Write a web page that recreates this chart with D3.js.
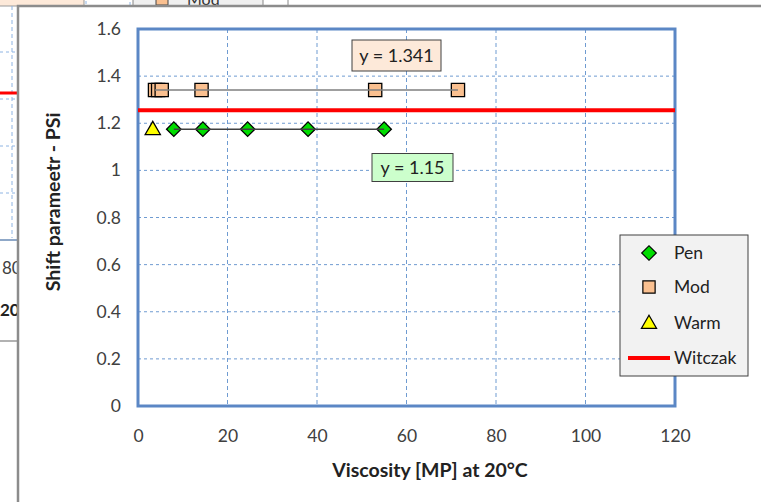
<!DOCTYPE html>
<html>
<head>
<meta charset="utf-8">
<script src="https://cdn.jsdelivr.net/npm/d3@7"></script>
<style>
  html, body { margin: 0; padding: 0; background: #fff; }
  svg { display: block; }
  text { font-family: Lato, "Open Sans", sans-serif; }
</style>
</head>
<body>
<svg id="chart" width="761" height="502"></svg>
<script>
// Shift parameter vs viscosity at 20°C
const penX   = [8, 14.5, 24.5, 38, 55];
const penY   = [1.175, 1.175, 1.175, 1.175, 1.175];
const modX   = [3.8, 4.5, 5.3, 14.2, 53, 71.5];
const modY   = [1.341, 1.341, 1.341, 1.341, 1.341, 1.341];
const warmX  = [3.3];
const warmY  = [1.175];
const witczakX = [0, 120];
const witczakY = [1.255, 1.255];
const xTicks = [0, 20, 40, 60, 80, 100, 120];
const yTicks = [0, 0.2, 0.4, 0.6, 0.8, 1, 1.2, 1.4, 1.6];
const legendNames = ["Pen", "Mod", "Warm", "Witczak"];
const modLabel = "y = 1.341";
const penLabel = "y = 1.15";

const svg = d3.select("#chart");

// ---- partly hidden chart sitting behind this one ----
const back = svg.append("g");
back.append("rect").attr("x", -2).attr("y", -4).attr("width", 86).attr("height", 10)
  .attr("fill", "#fde9d9").attr("stroke", "#999");
back.append("rect").attr("x", 86).attr("y", -4).attr("width", 44).attr("height", 10)
  .attr("fill", "#fff").attr("stroke", "#8eb4e3").attr("stroke-dasharray", "3,2");
back.append("rect").attr("x", 133).attr("y", -4).attr("width", 130).attr("height", 10)
  .attr("fill", "#f0f0f0").attr("stroke", "#888");
back.append("rect").attr("x", 156).attr("y", -4).attr("width", 12).attr("height", 9)
  .attr("fill", "#fac090").attr("stroke", "#444");
back.append("text").attr("x", 187).attr("y", 5).attr("font-size", 16).attr("fill", "#333").text("Mod");
back.append("line").attr("x1", 288).attr("x2", 288).attr("y1", 0).attr("y2", 6).attr("stroke", "#888");
[52, 99, 146, 193].forEach(y => back.append("line").attr("x1", 0).attr("x2", 18)
  .attr("y1", y).attr("y2", y).attr("stroke", "#8eb4e3").attr("stroke-dasharray", "3,3"));
back.append("line").attr("x1", 12).attr("x2", 12).attr("y1", 6).attr("y2", 238)
  .attr("stroke", "#8eb4e3").attr("stroke-dasharray", "4,3");
back.append("line").attr("x1", 0).attr("x2", 18).attr("y1", 93).attr("y2", 93)
  .attr("stroke", "#ff0000").attr("stroke-width", 3);
back.append("line").attr("x1", 0).attr("x2", 18).attr("y1", 240).attr("y2", 240)
  .attr("stroke", "#8fa8c8").attr("stroke-width", 2);
back.append("text").attr("x", 2).attr("y", 274).attr("font-size", 17).attr("fill", "#404040").text("80");
back.append("text").attr("x", 0).attr("y", 316).attr("font-size", 17).attr("font-weight", "bold").attr("fill", "#222").text("20");
back.append("line").attr("x1", 0).attr("x2", 18).attr("y1", 341).attr("y2", 341)
  .attr("stroke", "#999").attr("stroke-width", 1.5);

// ---- chart area ----
svg.append("rect").attr("x", 18).attr("y", 6).attr("width", 760).attr("height", 510)
  .attr("fill", "#fff").attr("stroke", "#8c8c8c").attr("stroke-width", 2.5);

const plot = { left: 138, right: 675, top: 29, bottom: 406 };
const x = d3.scaleLinear().domain([0, 120]).range([plot.left, plot.right]);
const y = d3.scaleLinear().domain([0, 1.6]).range([plot.bottom, plot.top]);

// gridlines
const grid = svg.append("g");
grid.selectAll("line.h").data(yTicks.slice(1, -1)).join("line")
  .attr("x1", plot.left).attr("x2", plot.right)
  .attr("y1", d => y(d)).attr("y2", d => y(d))
  .attr("stroke", "#6f9bd1").attr("stroke-width", 1).attr("stroke-dasharray", "3,3");
grid.selectAll("line.v").data(xTicks.slice(1, -1)).join("line")
  .attr("x1", d => x(d)).attr("x2", d => x(d))
  .attr("y1", plot.top).attr("y2", plot.bottom)
  .attr("stroke", "#6f9bd1").attr("stroke-width", 1).attr("stroke-dasharray", "4,3");

// axes (labels only, frame drawn separately)
const xAxis = svg.append("g").attr("transform", `translate(0,${plot.bottom})`)
  .call(d3.axisBottom(x).tickValues(xTicks).tickSize(0).tickPadding(24).tickFormat(d3.format("d")));
const yAxis = svg.append("g").attr("transform", `translate(${plot.left},0)`)
  .call(d3.axisLeft(y).tickValues(yTicks).tickSize(0).tickPadding(17)
    .tickFormat(d => d === 0 || d === 1 ? String(d) : d3.format(".1f")(d)));
[xAxis, yAxis].forEach(a => {
  a.select(".domain").remove();
  a.selectAll("text").attr("font-size", 17.5).attr("fill", "#404040")
    .attr("font-family", "Lato, sans-serif");
});

// plot frame
svg.append("rect").attr("x", plot.left).attr("y", plot.top)
  .attr("width", plot.right - plot.left).attr("height", plot.bottom - plot.top)
  .attr("fill", "none").attr("stroke", "#5b87c5").attr("stroke-width", 3);

// Witczak reference line
const line = d3.line().x(d => x(d[0])).y(d => y(d[1]));
svg.append("path").datum(d3.zip(witczakX, witczakY)).attr("d", line)
  .attr("fill", "none").attr("stroke", "#ff0000").attr("stroke-width", 4);

// markers: square, diamond (square turned 45°), triangle
const sq = d3.symbol().type(d3.symbolSquare).size(175);
const dia = d3.symbol().type(d3.symbolSquare).size(105);
const tri = d3.symbol().type(d3.symbolTriangle).size(100);

const modPts = d3.zip(modX, modY);
svg.append("g").selectAll("path").data(modPts).join("path")
  .attr("d", sq).attr("transform", d => `translate(${x(d[0])},${y(d[1])})`)
  .attr("fill", "#fac090").attr("stroke", "#000").attr("stroke-width", 1.3);
svg.append("path").datum(modPts).attr("d", line)
  .attr("fill", "none").attr("stroke", "#7f7f7f").attr("stroke-width", 1.5);

const penPts = d3.zip(penX, penY);
svg.append("g").selectAll("path").data(penPts).join("path")
  .attr("d", dia).attr("transform", d => `translate(${x(d[0])},${y(d[1])}) rotate(45)`)
  .attr("fill", "#00dd00").attr("stroke", "#000").attr("stroke-width", 1.3);
svg.append("path").datum(penPts).attr("d", line)
  .attr("fill", "none").attr("stroke", "#404040").attr("stroke-width", 1.5);

svg.append("g").selectAll("path").data(d3.zip(warmX, warmY)).join("path")
  .attr("d", tri).attr("transform", d => `translate(${x(d[0])},${y(d[1]) + 1})`)
  .attr("fill", "#ffff00").attr("stroke", "#000").attr("stroke-width", 1.3);

// value callouts
function callout(cx, cy, w, h, fill, label) {
  const g = svg.append("g");
  g.append("rect").attr("x", cx - w / 2).attr("y", cy - h / 2).attr("width", w).attr("height", h)
    .attr("fill", fill).attr("stroke", "#404040").attr("stroke-width", 1);
  g.append("text").attr("x", cx).attr("y", cy + 6.5).attr("text-anchor", "middle")
    .attr("font-size", 18).attr("fill", "#222").text(label);
}
callout(396.5, 55.5, 89, 31, "#fde9d9", modLabel);
callout(412.5, 167.5, 81, 28, "#ccffcc", penLabel);

// axis titles
svg.append("text").attr("x", 430).attr("y", 477).attr("text-anchor", "middle")
  .attr("font-size", 19.5).attr("font-weight", "bold").attr("fill", "#222")
  .text("Viscosity [MP] at 20°C");
svg.append("text").attr("transform", "translate(60,202) rotate(-90)").attr("text-anchor", "middle")
  .attr("font-size", 19.5).attr("font-weight", "bold").attr("fill", "#222")
  .text("Shift parameetr - PSi");

// legend
const lg = svg.append("g").attr("transform", "translate(620,235)");
lg.append("rect").attr("width", 128).attr("height", 141)
  .attr("fill", "#f2f2f2").attr("stroke", "#404040").attr("stroke-width", 1);
const rowY = [18, 52, 88, 123];
lg.append("path").attr("d", dia).attr("transform", `translate(29,${rowY[0]}) rotate(45)`)
  .attr("fill", "#00dd00").attr("stroke", "#000").attr("stroke-width", 1.2);
lg.append("path").attr("d", d3.symbol().type(d3.symbolSquare).size(150)())
  .attr("transform", `translate(29,${rowY[1]})`)
  .attr("fill", "#fac090").attr("stroke", "#000").attr("stroke-width", 1.2);
lg.append("path").attr("d", tri).attr("transform", `translate(29,${rowY[2] + 1})`)
  .attr("fill", "#ffff00").attr("stroke", "#000").attr("stroke-width", 1.2);
lg.append("line").attr("x1", 8).attr("x2", 50).attr("y1", rowY[3]).attr("y2", rowY[3])
  .attr("stroke", "#ff0000").attr("stroke-width", 4);
lg.selectAll("text").data(legendNames).join("text")
  .attr("x", 54).attr("y", (d, i) => rowY[i] + 6)
  .attr("font-size", 17.5).attr("fill", "#222").text(d => d);
</script>
</body>
</html>
